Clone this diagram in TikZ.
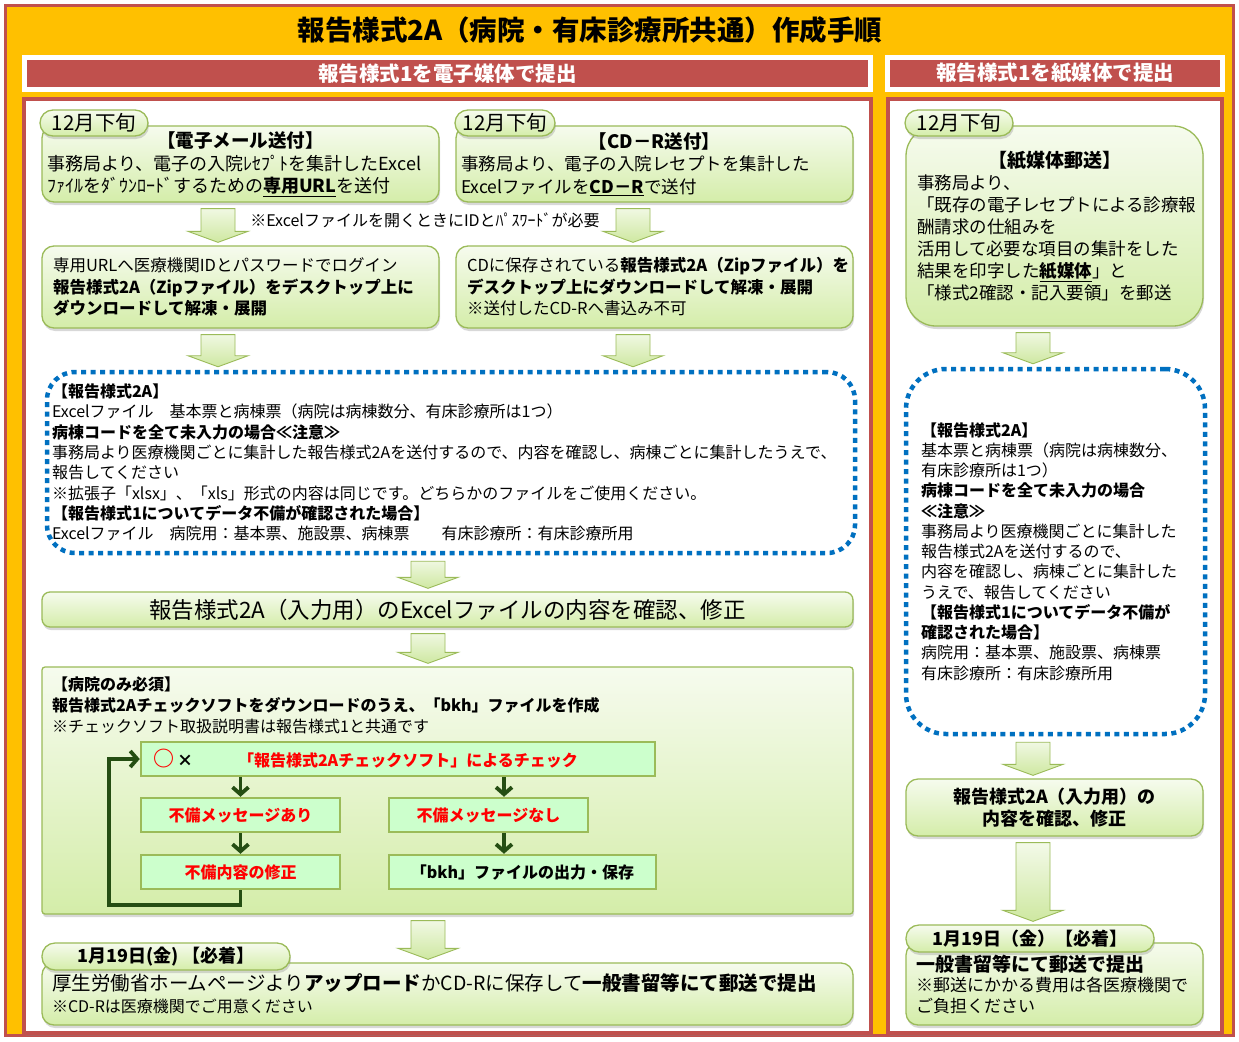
\documentclass[tikz,border=0pt]{standalone}
\usepackage{fontspec}
\setmainfont{Noto Sans CJK JP}
\usetikzlibrary{arrows.meta,calc,shadows}

\definecolor{orng}{HTML}{FFC000}
\definecolor{redbar}{HTML}{C0504D}
\definecolor{gline}{HTML}{9BBB59}
\definecolor{gtop}{HTML}{F6FBEE}
\definecolor{gbot}{HTML}{D4EDA9}
\definecolor{gchk}{HTML}{CCFFCC}
\definecolor{dotblue}{HTML}{0070C0}
\definecolor{darkgr}{HTML}{254E13}
\definecolor{warn}{HTML}{FF0000}

\newcommand{\fsz}[2]{\fontsize{#1}{#2}\selectfont}

\begin{document}
\begin{tikzpicture}[x=1pt,y=-1pt,>={Straight Barb[length=7pt,width=16pt]},
    gbox/.style={draw=gline,line width=1.3pt,top color=gtop,bottom color=gbot,
      rounded corners=12pt,inner sep=0pt,
      drop shadow={shadow xshift=1pt,shadow yshift=-3pt,opacity=0.3}},
    tabbox/.style={gbox,rounded corners=13pt,minimum height=26pt},
    chkbox/.style={draw=gline,line width=2.5pt,fill=gchk,minimum height=34pt,
      inner sep=0pt,font=\fsz{16}{20}\bfseries},
    dotbox/.style={draw=dotblue,line width=4.5pt,dash pattern=on 5pt off 4.5pt,
      rounded corners=28pt,inner sep=0pt},
    hdr/.style={fill=redbar,draw=white,line width=5pt,minimum height=32pt,
      text=white,font=\fsz{20.5}{22}\bfseries,
      drop shadow={shadow xshift=1pt,shadow yshift=-2pt,opacity=0.35}},
    panel/.style={fill=white,draw=redbar,line width=4pt,minimum height=934pt,
      drop shadow={shadow xshift=2pt,shadow yshift=-3pt,opacity=0.3}},
    garrow/.style={draw=gline,line width=0.9pt,top color=gtop,bottom color=gbot!90!gline,
      to path={let \p1=(\tikztostart),\p2=(\tikztotarget) in
        (\x1-17pt,\y1-6pt) -- (\x1+17pt,\y1-6pt) -- (\x1+17pt,\y2+14pt)
        -- (\x1+30pt,\y2+14pt) -- (\x1,\y2+3pt) -- (\x1-30pt,\y2+14pt)
        -- (\x1-17pt,\y2+14pt) -- cycle}},
    darrow/.style={->,draw=darkgr,line width=3.8pt}]

\useasboundingbox (0,0) rectangle (1239,1041);
\fill[white] (0,0) rectangle (1239,1041);
\node[draw=redbar,line width=3pt,fill=orng,minimum width=1228pt,minimum height=1030pt] (frame) at (619.5,520.5) {};

\node[font=\fsz{27.5}{30}\bfseries] (title) at (590,30) {報告様式2A（病院・有床診療所共通）作成手順};
\node[hdr,minimum width=846pt] (hdrL) at (447.5,73.5) {報告様式1を電子媒体で提出};
\node[hdr,minimum width=335pt] (hdrR) at (1055,73.5) {報告様式1を紙媒体で提出};
\node[panel,minimum width=847pt] (panelL) at (447.5,566) {};
\node[panel,minimum width=334pt] (panelR) at (1055,566) {};

\coordinate (colL) at (218,0);
\coordinate (colR) at (633,0);
\coordinate (colM) at (428,0);
\coordinate (colP) at (1033,0);
\coordinate (colK) at (504,0);
\coordinate (loop) at (109,905);

\node[gbox,minimum width=397pt,minimum height=76pt,text width=387pt,align=left,font=\fsz{18}{22.5}] (A1) at (240.5,164)
  {\makebox[387pt][c]{\fsz{18.5}{22.5}\bfseries 【電子メール送付】}\\
   事務局より、電子の入院ﾚｾﾌﾟﾄを集計したExcel\\
   ﾌｧｲﾙをﾀﾞｳﾝﾛｰﾄﾞするための\textbf{\underline{専用URL}}を送付};
\node[tabbox,minimum width=108pt,font=\fsz{20.5}{22}] (A1tab) at (94,123) {12月下旬};
\node[gbox,minimum width=397pt,minimum height=76pt,text width=387pt,align=left,font=\fsz{17.5}{22.5}] (A2) at (654.5,164)
  {\makebox[387pt][c]{\fsz{18.5}{22.5}\bfseries 【CD－R送付】}\\
   事務局より、電子の入院レセプトを集計した\\
   Excelファイルを\textbf{\underline{CD－R}}で送付};
\node[tabbox,minimum width=100pt,font=\fsz{20.5}{22}] (A2tab) at (505,123) {12月下旬};
\node[font=\fsz{16}{18}] (pwnote) at (425,220) {※Excelファイルを開くときにIDとﾊﾟｽﾜｰﾄﾞが必要};

\node[gbox,minimum width=397pt,minimum height=82pt,text width=375pt,align=left,font=\fsz{16.5}{21.5}] (B1) at (240.5,287)
  {専用URLへ医療機関IDとパスワードでログイン\\
   \textbf{報告様式2A（Zipファイル）をデスクトップ上に}\\
   \textbf{ダウンロードして解凍・展開}};
\node[gbox,minimum width=397pt,minimum height=82pt,text width=375pt,align=left,font=\fsz{16.5}{21.5}] (B2) at (654.5,287)
  {CDに保存されている\textbf{報告様式2A（Zipファイル）を}\\
   \textbf{デスクトップ上にダウンロードして解凍・展開}\\
   ※送付したCD-Rへ書込み不可};

\node[dotbox,minimum width=808pt,minimum height=181pt,text width=798pt,align=left,font=\fsz{16}{20.3}] (dotL) at (451,462.5)
  {\textbf{【報告様式2A】}\\
   Excelファイル　基本票と病棟票（病院は病棟数分、有床診療所は1つ）\\
   \textbf{病棟コードを全て未入力の場合≪注意≫}\\
   事務局より医療機関ごとに集計した報告様式2Aを送付するので、内容を確認し、病棟ごとに集計したうえで、\\
   報告してください\\
   ※拡張子「xlsx」、「xls」形式の内容は同じです。どちらかのファイルをご使用ください。\\
   \textbf{【報告様式1についてデータ不備が確認された場合】}\\
   Excelファイル　病院用：基本票、施設票、病棟票　　有床診療所：有床診療所用};

\node[gbox,rounded corners=8pt,minimum width=811pt,minimum height=35pt,font=\fsz{22.5}{24}] (C) at (447.5,609.5)
  {報告様式2A（入力用）のExcelファイルの内容を確認、修正};

\node[gbox,rounded corners=3pt,minimum width=811pt,minimum height=247pt] (D) at (447.5,790.5) {};
\node[anchor=north west,align=left,inner sep=0pt,font=\fsz{16}{21}\bfseries] (Dtxt) at (52,677)
  {【病院のみ必須】\\
   報告様式2Aチェックソフトをダウンロードのうえ、「bkh」ファイルを作成\\
   {\mdseries\fsz{16}{20}※チェックソフト取扱説明書は報告様式1と共通です}};
\node[chkbox,minimum width=514pt,text width=500pt,align=left] (chk) at (398,759)
  {\hspace*{5pt}\makebox[85pt][l]{\textcolor{warn}{\fsz{21}{20}○}\hspace{3pt}×}\textcolor{warn}{「報告様式2Aチェックソフト」によるチェック}};
\node[chkbox,minimum width=199pt,text=warn] (ng1) at (240.5,815) {不備メッセージあり};
\node[chkbox,minimum width=199pt,text=warn] (fix) at (240.5,872) {不備内容の修正};
\node[chkbox,minimum width=199pt,text=warn] (ok1) at (488.5,815) {不備メッセージなし};
\node[chkbox,minimum width=267pt] (bkh) at (522.5,872) {「bkh」ファイルの出力・保存};

\draw[darrow] (chk.south -| ng1.north) -- (ng1.north);
\draw[darrow] (ng1.south) -- (fix.north);
\draw[darrow] (chk.south -| colK) -- (ok1.north -| colK);
\draw[darrow] (ok1.south -| colK) -- (bkh.north -| colK);
\draw[darrow] (fix.south) |- (loop) |- (chk.west);

\node[gbox,minimum width=811pt,minimum height=62pt,text width=791pt,align=left,font=\fsz{19.5}{22}] (E) at (447.5,994)
  {厚生労働省ホームページより\textbf{アップロード}かCD-Rに保存して\textbf{一般書留等にて郵送で提出}\\
   {\fsz{16}{22}※CD-Rは医療機関でご用意ください}};
\node[tabbox,minimum width=248pt,minimum height=27pt,font=\fsz{18}{20}\bfseries] (tabE) at (166,956.5) {1月19日(金) 【必着】};

\node[gbox,rounded corners=30pt,minimum width=297pt,minimum height=200pt,text width=275pt,align=left,font=\fsz{17.5}{22}] (R1) at (1054.5,226)
  {\makebox[275pt][c]{\fsz{19}{22}\bfseries 【紙媒体郵送】}\\
   事務局より、\\
   「既存の電子レセプトによる診療報\\
   酬請求の仕組みを\\
   活用して必要な項目の集計をした\\
   結果を印字した\textbf{\underline{紙媒体}}」と\\
   「様式2確認・記入要領」を郵送};
\node[tabbox,minimum width=108pt,font=\fsz{20.5}{22}] (tabR) at (959,123) {12月下旬};

\node[dotbox,rounded corners=40pt,minimum width=299pt,minimum height=365pt,text width=269pt,align=left,font=\fsz{16}{20.25}] (dotR) at (1055.5,551.5)
  {\textbf{【報告様式2A】}\\
   基本票と病棟票（病院は病棟数分、\\
   有床診療所は1つ）\\
   \textbf{病棟コードを全て未入力の場合}\\
   \textbf{≪注意≫}\\
   事務局より医療機関ごとに集計した\\
   報告様式2Aを送付するので、\\
   内容を確認し、病棟ごとに集計した\\
   うえで、報告してください\\
   \textbf{【報告様式1についてデータ不備が}\\
   \textbf{確認された場合】}\\
   病院用：基本票、施設票、病棟票\\
   有床診療所：有床診療所用};

\node[gbox,minimum width=297pt,minimum height=57pt,align=center,font=\fsz{18}{22}\bfseries] (R2) at (1054.5,807.5)
  {報告様式2A（入力用）の\\内容を確認、修正};
\node[gbox,minimum width=297pt,minimum height=82pt,text width=277pt,align=left,font=\fsz{17}{20.5}] (R3) at (1054.5,984)
  {{\fsz{19}{20.5}\bfseries 一般書留等にて郵送で提出}\\
   ※郵送にかかる費用は各医療機関で\\
   ご負担ください};
\node[tabbox,minimum width=248pt,minimum height=27pt,font=\fsz{18}{20}\bfseries] (tabR2) at (1030,938.5) {1月19日（金）【必着】};

\path[garrow] (A1.south -| colL) to (B1.north -| colL);
\path[garrow] (A2.south -| colR) to (B2.north -| colR);
\path[garrow] (B1.south -| colL) to (dotL.north -| colL);
\path[garrow] (B2.south -| colR) to (dotL.north -| colR);
\path[garrow] (dotL.south -| colM) to (C.north -| colM);
\path[garrow] (C.south -| colM) to (D.north -| colM);
\path[garrow] (D.south -| colM) to (E.north -| colM);
\path[garrow] (R1.south -| colP) to (dotR.north -| colP);
\path[garrow] (dotR.south -| colP) to (R2.north -| colP);
\path[garrow] (R2.south -| colP) to (tabR2.north -| colP);
\end{tikzpicture}
\end{document}
